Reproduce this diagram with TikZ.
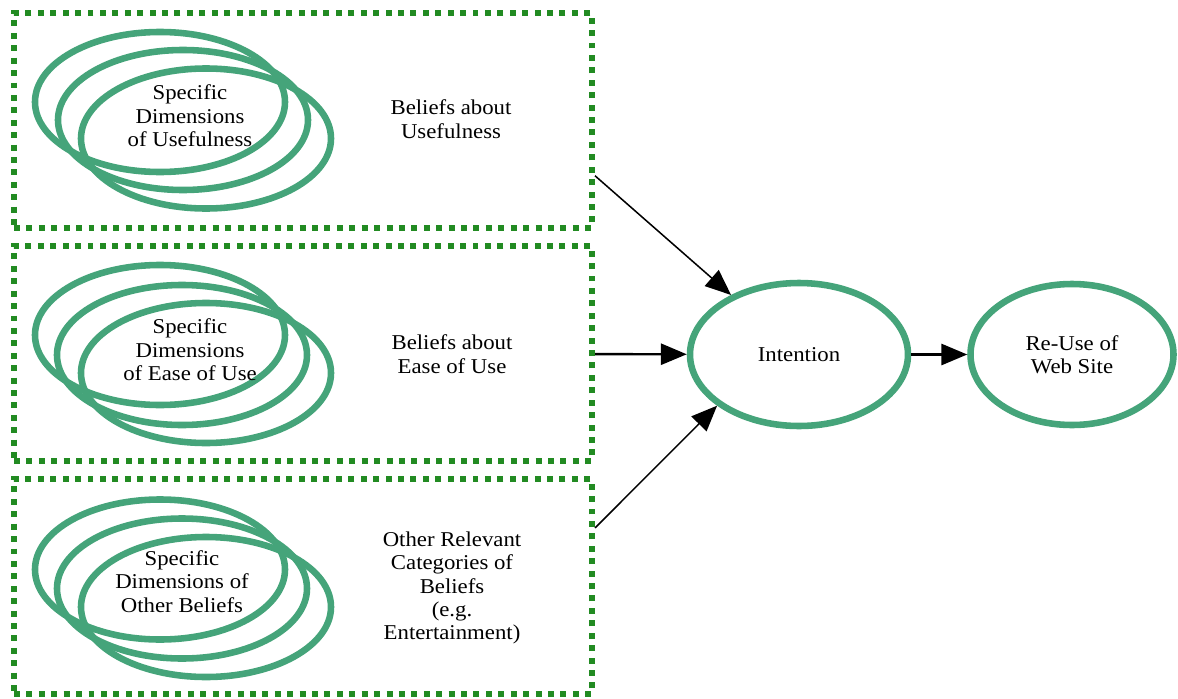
\documentclass[tikz,border=0pt]{standalone}
\usepackage{fontspec}
\setmainfont[FakeStretch=1.08]{Liberation Serif}
\usepackage{tikz}
\usetikzlibrary{calc,shapes.geometric,arrows.meta}
\definecolor{boxgreen}{RGB}{34,139,34}
\definecolor{ringgreen}{RGB}{69,164,122}

\begin{document}
\begin{tikzpicture}[x=0.03cm,y=-0.03cm,
        every node/.style={font=\fontsize{18}{20}\selectfont,align=center},
        dotbox/.style={draw=boxgreen,line width=5.1pt,dash pattern=on 5.1pt off 5.5pt,
          minimum width=17.34cm,minimum height=6.45cm,inner sep=0pt},
        ring/.style={ellipse,draw=ringgreen,line width=5.6pt,inner sep=0pt,
          minimum width=7.5cm,minimum height=4.2cm},
        bigring/.style={ellipse,draw=ringgreen,line width=5.6pt,inner sep=0pt},
        link/.style={-{Triangle[length=22pt,width=18pt]},line width=1.3pt}]
        \useasboundingbox (0,0) rectangle (1178,698);
        % dotted frames
        \node[dotbox] (usefulBox) at (303,120.5) {};
        \node[dotbox] (easeBox) at (303,353.5) {};
        \node[dotbox] (otherBox) at (303,586.5) {};
        % usefulness
        \node[ring] (usefulA) at (160,102) {};
        \node[ring] (usefulB) at (183,120) {};
        \node[ring] (usefulC) at (206,138.5) {};
        \node (usefulDim) at (190,116) {Specific\\Dimensions\\of Usefulness};
        \node (usefulBel) at (451,119) {Beliefs about\\Usefulness};
        % ease of use
        \node[ring] (easeA) at (160,335) {};
        \node[ring] (easeB) at (182,355) {};
        \node[ring] (easeC) at (206,373) {};
        \node (easeDim) at (190,350) {Specific\\Dimensions\\of Ease of Use};
        \node (easeBel) at (452,354) {Beliefs about\\Ease of Use};
        % other beliefs
        \node[ring] (otherA) at (160,569.5) {};
        \node[ring] (otherB) at (182,588.5) {};
        \node[ring] (otherC) at (206,607) {};
        \node (otherDim) at (182,581.5) {Specific\\Dimensions of\\Other Beliefs};
        \node (otherBel) at (452,588) {Other Relevant\\Categories of\\Beliefs\\(e.g.\\Entertainment)};
        % intention and re-use
        \node[bigring,minimum width=6.54cm,minimum height=4.29cm] (intention) at (799,354.5) {Intention};
        \node[bigring,minimum width=6.09cm,minimum height=4.23cm] (reuse) at (1072,354.5) {Re-Use of\\Web Site};
        \draw[link] ($(usefulBox.north east)!0.75!(usefulBox.south east)$) -- (intention);
        \draw[link,line width=2pt] (easeBox) -- (intention);
        \draw[link] ($(otherBox.north east)!0.235!(otherBox.south east)$) -- (intention.212);
        \draw[link,line width=2pt] (intention) -- (reuse);
      \end{tikzpicture}
\end{document}
